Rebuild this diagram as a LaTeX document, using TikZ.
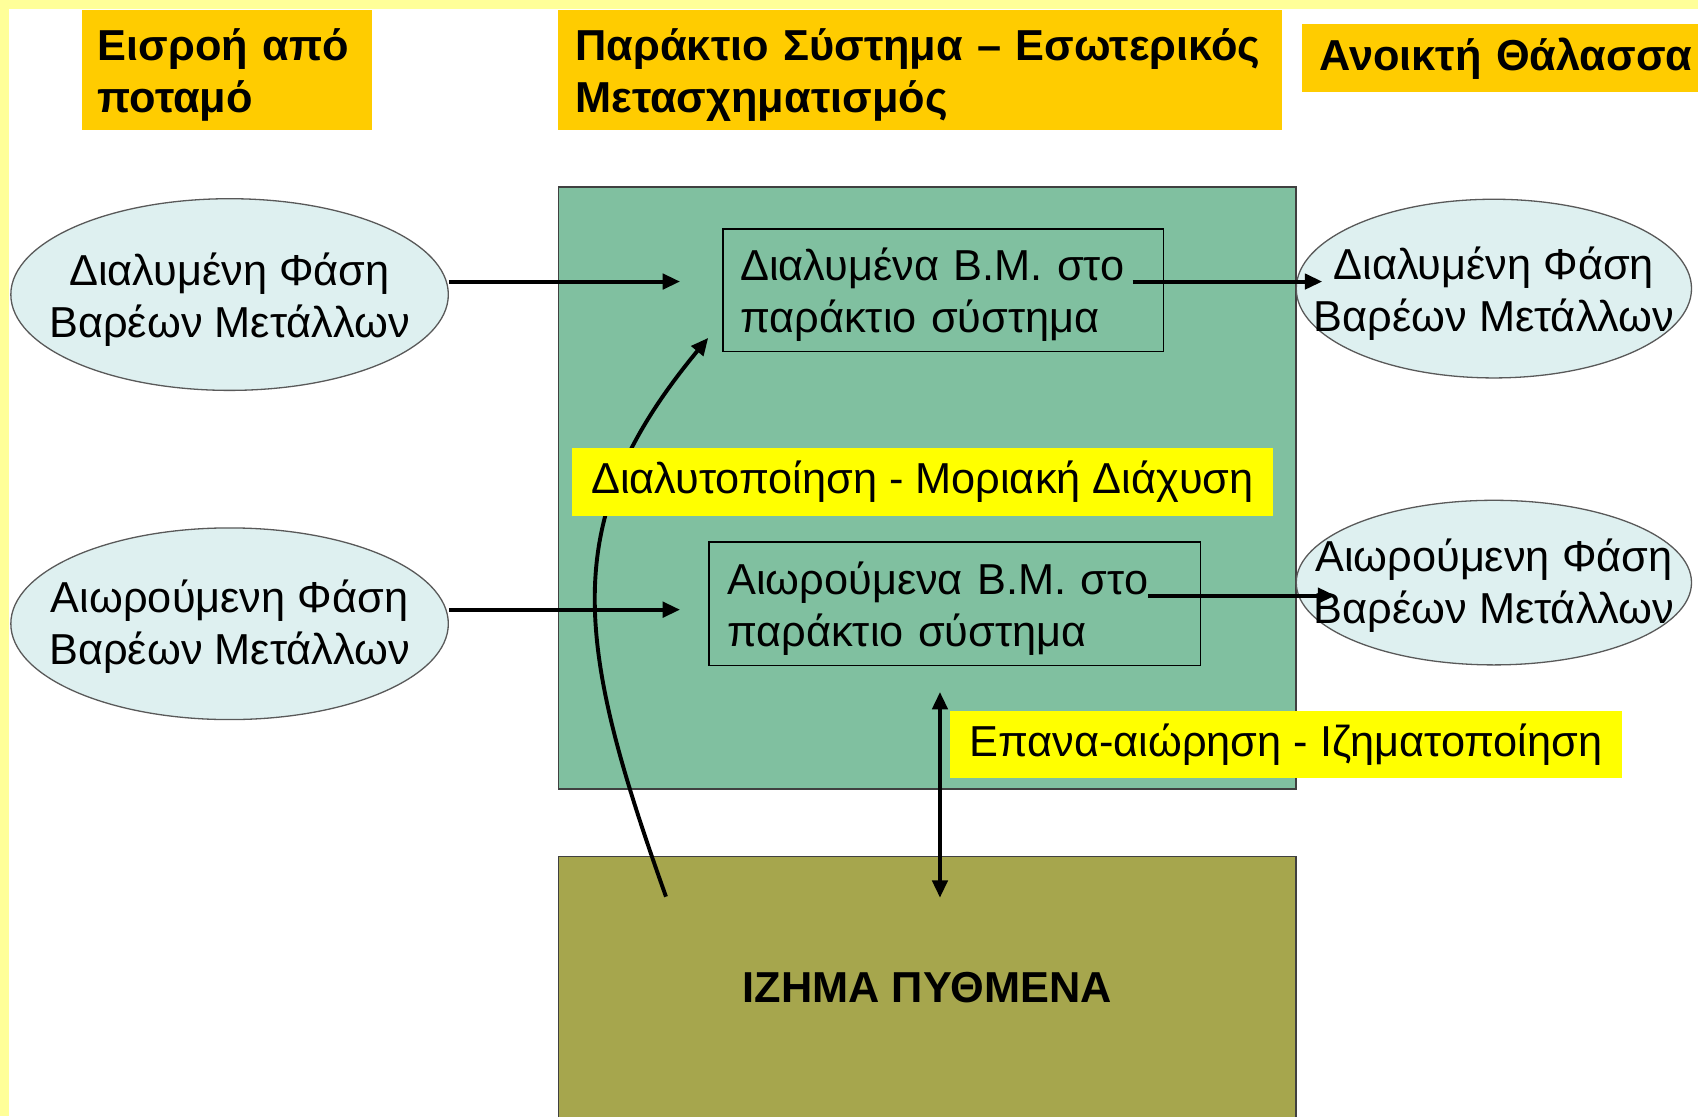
\documentclass[tikz,border=0pt]{standalone}
\usepackage{fontspec}
\setmainfont{Liberation Sans}
\usetikzlibrary{shapes.geometric,arrows.meta}
\definecolor{bandyellow}{HTML}{FFFF99}
\definecolor{hdrorange}{HTML}{FFCC00}
\definecolor{seagreen}{HTML}{80C0A0}
\definecolor{sediment}{HTML}{A6A64D}
\definecolor{phasefill}{HTML}{DEF0F0}
\definecolor{lblyellow}{HTML}{FFFF00}
\definecolor{edgegray}{HTML}{404040}
\begin{document}
\begin{tikzpicture}[x=0.5pt,y=-0.5pt,
  every node/.style={font=\fontsize{20}{24}\selectfont},
  header/.style={fill=hdrorange, anchor=north west, align=left, inner ysep=0pt,
    font=\fontsize{20}{24}\selectfont\bfseries},
  innerbox/.style={draw=black, line width=0.6pt, anchor=north west, align=left, inner ysep=0pt, text depth=24pt},
  procbox/.style={fill=lblyellow, anchor=north west, align=center, inner sep=0pt},
  zone/.style={draw=edgegray, line width=0.7pt, anchor=north west, inner sep=0pt},
  phase/.style={ellipse, draw=gray!70!black, line width=0.6pt, fill=phasefill, inner sep=0pt},
  phasetext/.style={align=center, inner sep=0pt},
  arr/.style={line width=1.8pt, -{Triangle[length=8pt,width=7pt]}},
  darr/.style={line width=1.8pt, {Triangle[length=8pt,width=7pt]}-{Triangle[length=8pt,width=7pt]}}
]
\useasboundingbox (0,0) rectangle (1568,1031);
\fill[white] (0,0) rectangle (1568,1031);
\fill[bandyellow] (0,0) rectangle (1568,8);
\fill[bandyellow] (0,0) rectangle (8,1031);

% headers
\node[header, text depth=24pt, text width=119pt, inner xsep=7.5pt, minimum height=55.5pt] (h1) at (75,9)
  {Εισροή από\\ποταμό};
\node[header, text depth=24pt, text width=318pt, inner xsep=8pt, minimum height=55.5pt] (h2) at (515,9)
  {\mbox{Παράκτιο Σύστημα – Εσωτερικός}\\Μετασχηματισμός};
\node[header, text width=200pt, inner xsep=8pt, minimum height=31.5pt] (h3) at (1202,22)
  {\mbox{Ανοικτή Θάλασσα}};

% zones
\node[zone, fill=seagreen, minimum width=340.5pt, minimum height=278pt] (coast) at (515,172) {};
\node[zone, fill=sediment, minimum width=340.5pt, minimum height=121pt,
  font=\fontsize{20}{24}\selectfont\bfseries] (sed) at (515,790) {ΙΖΗΜΑ ΠΥΘΜΕΝΑ};

% inner boxes
\node[innerbox, text width=187.5pt, inner xsep=8pt, minimum height=56.5pt] (ib1) at (667,211)
  {\mbox{Διαλυμένα Β.Μ. στο}\\παράκτιο σύστημα};
\node[innerbox, text width=210pt, inner xsep=8.5pt, minimum height=57pt] (ib2) at (654,500)
  {\mbox{Αιωρούμενα Β.Μ. στο}\\παράκτιο σύστημα};

% ellipses
\node[phase, minimum width=202pt, minimum height=88.5pt] (le1) at (212,272) {};
\node[phasetext] (le1t) at (212,277) {Διαλυμένη Φάση\\Βαρέων Μετάλλων};
\node[phase, minimum width=202pt, minimum height=88.5pt] (le2) at (212,576) {};
\node[phasetext] (le2t) at (212,579) {Αιωρούμενη Φάση\\Βαρέων Μετάλλων};
\node[phase, minimum width=182.5pt, minimum height=82.5pt] (re1) at (1379.5,266.5) {};
\node[phasetext] (re1t) at (1379.5,271) {Διαλυμένη Φάση\\Βαρέων Μετάλλων};
\node[phase, minimum width=182.5pt, minimum height=76pt] (re2) at (1379.5,538) {};
\node[phasetext] (re2t) at (1379.5,541) {Αιωρούμενη Φάση\\Βαρέων Μετάλλων};

% connectors
\coordinate (a1) at (628,260);
\coordinate (a2) at (628,563);
\draw[arr] (le1.east |- a1) -- (a1);
\draw[arr] (le2.east |- a2) -- (a2);
\coordinate (r1s) at (1046,260);
\coordinate (r1e) at (1221,260);
\coordinate (r2s) at (1060,550);
\coordinate (r2e) at (1233,550);
\draw[arr] (r1s) -- (r1e);
\draw[arr] (r2s) -- (r2e);
\coordinate (cs) at (615,828);
\coordinate (ce) at (654,312);
\draw[arr] (cs) .. controls (530,590) and (515,480) .. (ce);
\coordinate (d1) at (868,639);
\coordinate (d2) at (868,829);
\draw[darr] (d1) -- (d2);

% process labels
\node[procbox, minimum width=323.5pt, minimum height=31.5pt] (p1) at (528,413)
  {Διαλυτοποίηση - Μοριακή Διάχυση};
\node[procbox, minimum width=310pt, minimum height=31pt] (p2) at (877,656)
  {Επανα-αιώρηση - Ιζηματοποίηση};
\end{tikzpicture}
\end{document}
